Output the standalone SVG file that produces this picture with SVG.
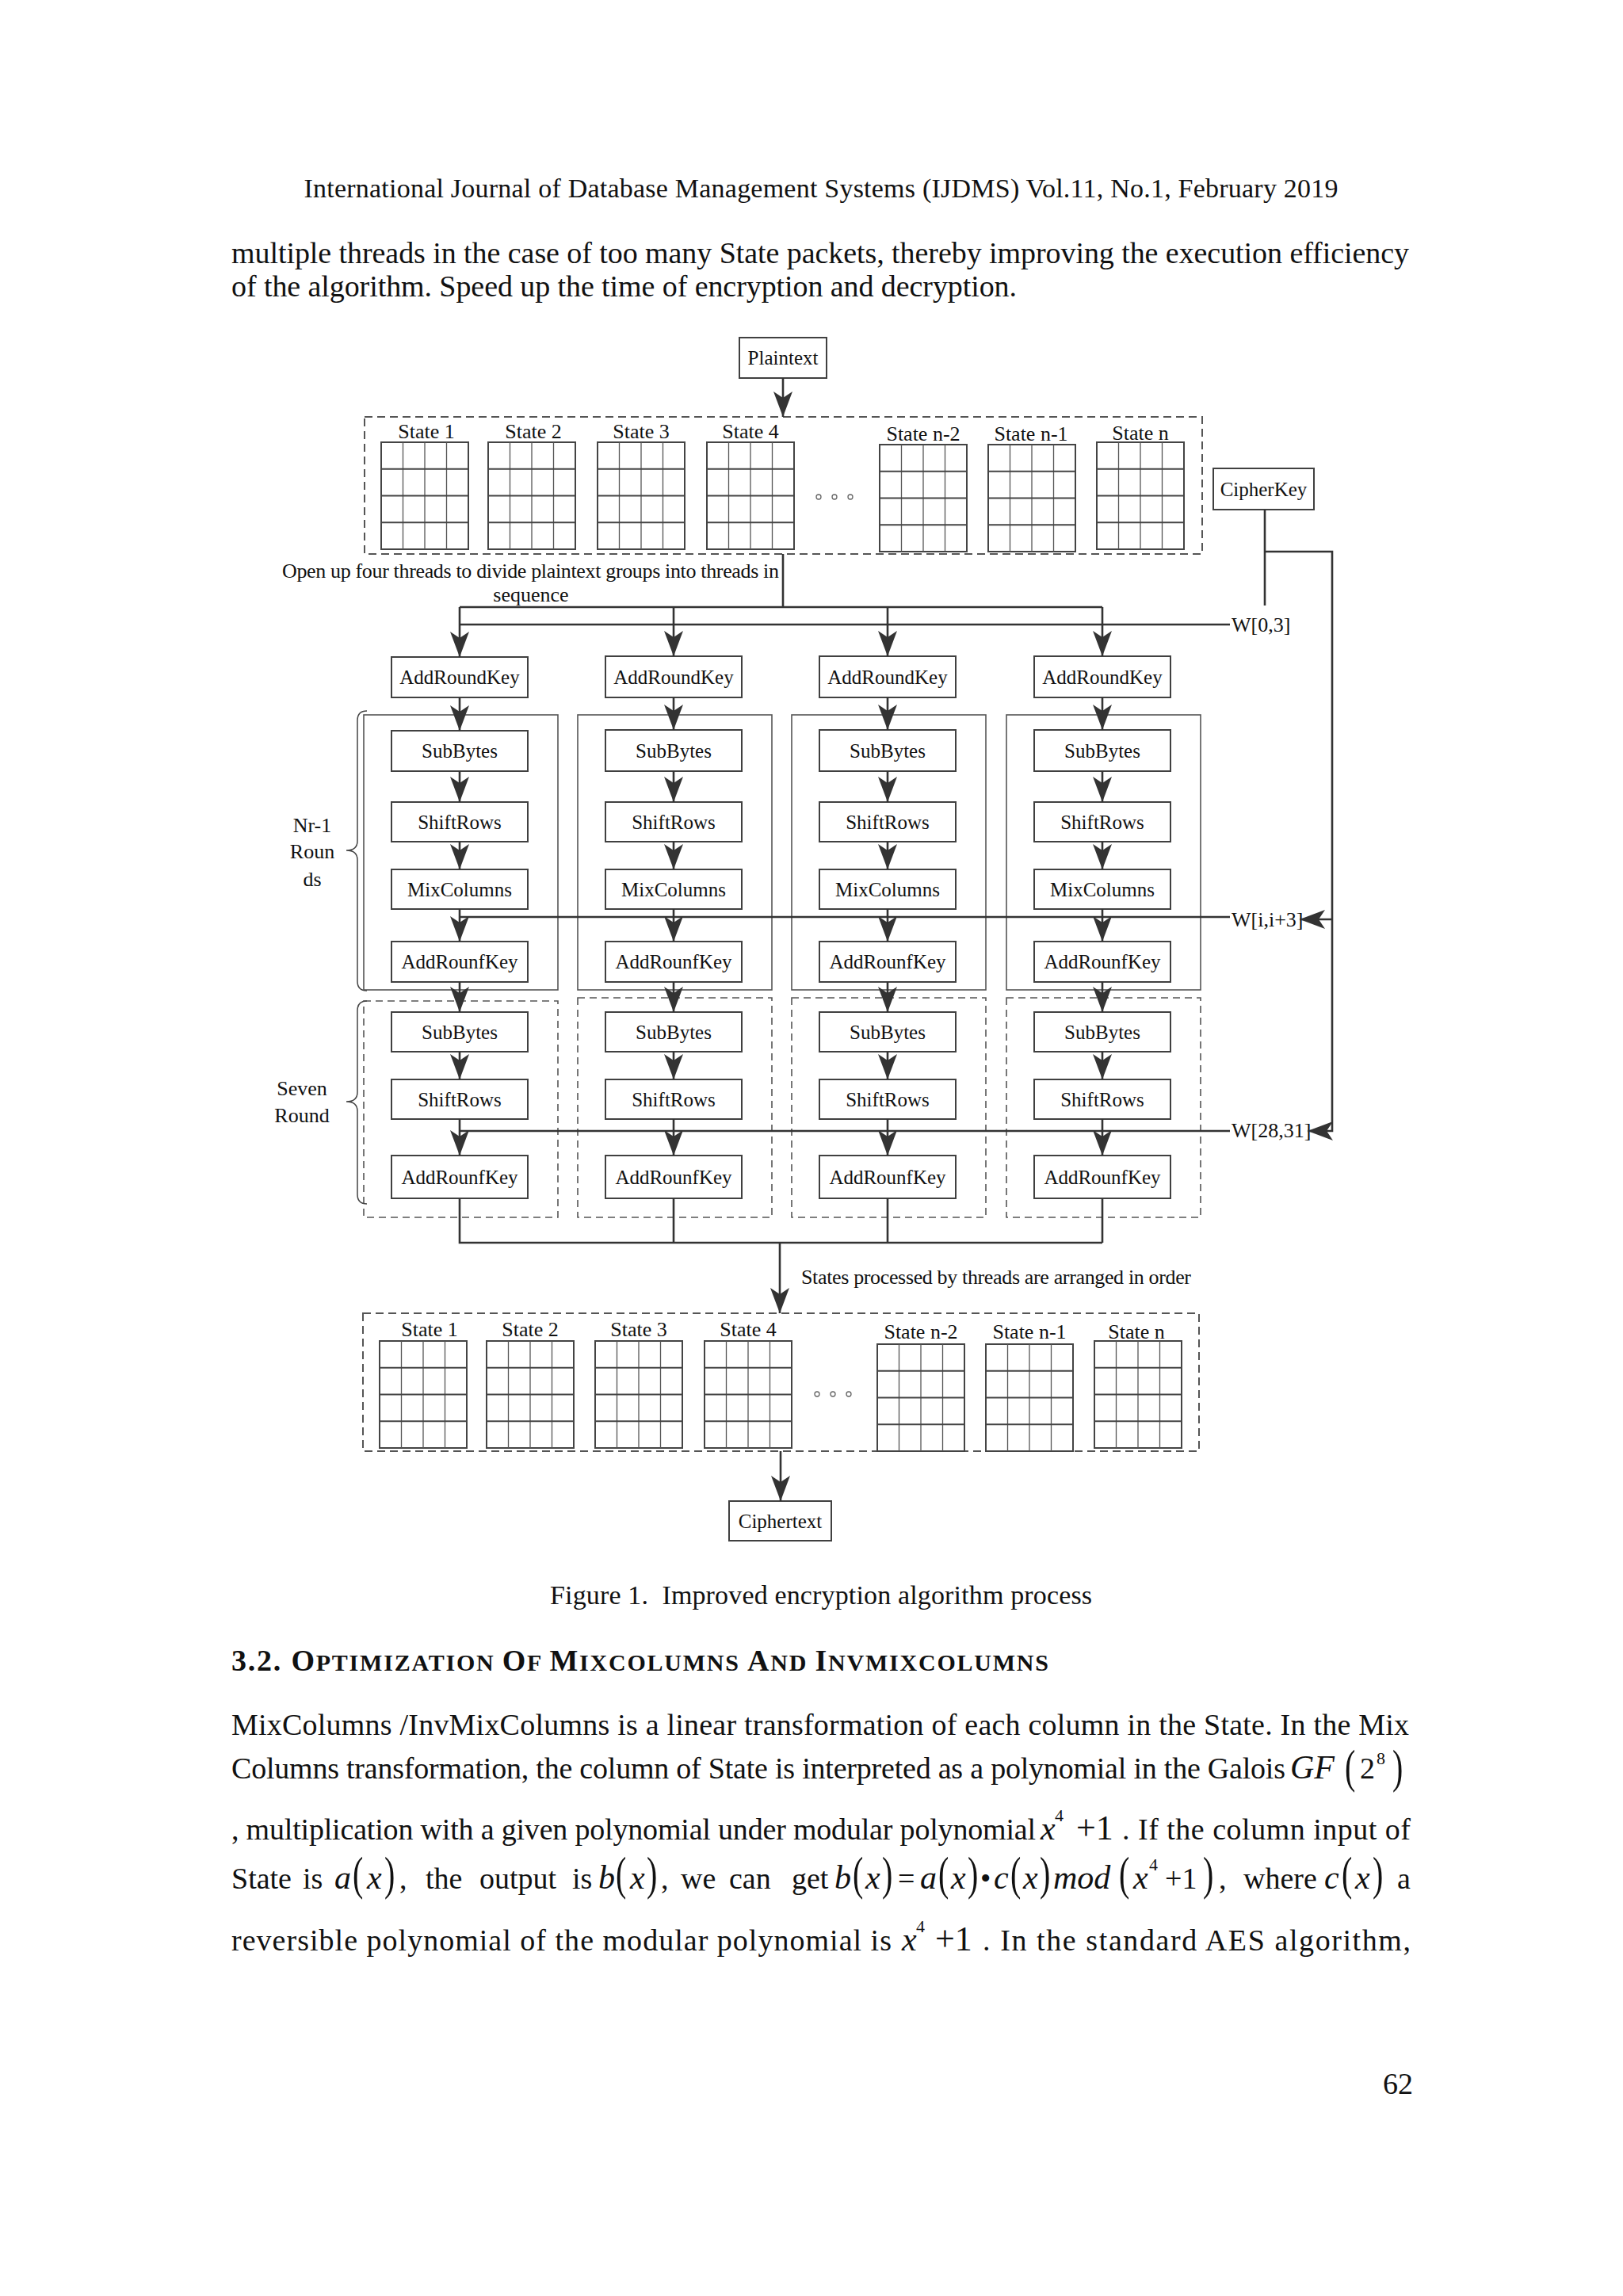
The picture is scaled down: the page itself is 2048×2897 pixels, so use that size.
<svg xmlns="http://www.w3.org/2000/svg" width="2048" height="2897" viewBox="0 0 2048 2897">
<style>
.t{font-family:"Liberation Serif","Times New Roman",serif;fill:#111}
.b{font-size:38px}
.f{font-size:25px;text-anchor:middle}
.w{font-size:26px}
.i{font-style:italic}
.m{font-size:42px;font-style:italic}
.pp{font-size:40px}
.box{fill:#fff;stroke:#404040;stroke-width:2}
.ln{stroke:#333;stroke-width:2.6;fill:none}
.thr{fill:none;stroke:#555;stroke-width:1.6}
.thrd{fill:none;stroke:#555;stroke-width:1.6;stroke-dasharray:9 6}
.dash{fill:none;stroke:#555;stroke-width:2;stroke-dasharray:10 6}
.gr{fill:none;stroke:#444;stroke-width:2}
.gv{stroke:#555;stroke-width:1.3}
.dot{fill:none;stroke:#666;stroke-width:1.3}
.br{fill:none;stroke:#444;stroke-width:1.5}
</style>
<defs>
<marker id="ah" markerUnits="userSpaceOnUse" markerWidth="34" markerHeight="26" refX="32" refY="13" orient="auto" viewBox="0 0 34 26"><path d="M0,1 L32,13 L0,25 L8,13 Z" fill="#333"/></marker>
<g id="grid">
<rect class="gr" x="0" y="0" width="110" height="135"/>
<line class="gv" x1="27.5" y1="0" x2="27.5" y2="135"/>
<line class="gv" x1="55" y1="0" x2="55" y2="135"/>
<line class="gv" x1="82.5" y1="0" x2="82.5" y2="135"/>
<line class="gr" x1="0" y1="33.75" x2="110" y2="33.75"/>
<line class="gr" x1="0" y1="67.5" x2="110" y2="67.5"/>
<line class="gr" x1="0" y1="101.25" x2="110" y2="101.25"/>
</g>
</defs>
<rect width="2048" height="2897" fill="#fff"/>

<!-- page text -->
<g id="page-text" class="t">
<text x="1036" y="249" font-size="34" text-anchor="middle" textLength="1305" lengthAdjust="spacing">International Journal of Database Management Systems (IJDMS) Vol.11, No.1, February 2019</text>
<text class="b" x="292" y="332" textLength="1486" lengthAdjust="spacing">multiple threads in the case of too many State packets, thereby improving the execution efficiency</text>
<text class="b" x="292" y="374" textLength="991" lengthAdjust="spacing">of the algorithm. Speed up the time of encryption and decryption.</text>
<text x="694" y="2024" font-size="34" textLength="684" lengthAdjust="spacing" style="white-space:pre">Figure 1.  Improved encryption algorithm process</text>
<text x="292" y="2108" font-weight="bold" textLength="1031" lengthAdjust="spacing"><tspan font-size="38">3.2. O</tspan><tspan font-size="30">PTIMIZATION </tspan><tspan font-size="38">O</tspan><tspan font-size="30">F </tspan><tspan font-size="38">M</tspan><tspan font-size="30">IXCOLUMNS </tspan><tspan font-size="38">A</tspan><tspan font-size="30">ND </tspan><tspan font-size="38">I</tspan><tspan font-size="30">NVMIXCOLUMNS</tspan></text>
<text class="b" x="292" y="2189" textLength="1486" lengthAdjust="spacing">MixColumns /InvMixColumns is a linear transformation of each column in the State. In the Mix</text>

<!-- line 2 -->
<text class="b" x="292" y="2244" textLength="1330" lengthAdjust="spacing">Columns transformation, the column of State is interpreted as a polynomial in the Galois</text>
<text class="m" x="1628" y="2244">GF</text>
<text class="b" x="1716" y="2244">2</text>
<text x="1737" y="2226" font-size="22">8</text>
<text class="pp" transform="scale(1 1.5)" y="1499.3"><tspan x="1697">(</tspan><tspan x="1757">)</tspan></text>

<!-- line 3 -->
<text class="b" x="292" y="2321" textLength="1015" lengthAdjust="spacing">, multiplication with a given polynomial under modular polynomial</text>
<text class="m" x="1313" y="2321">x</text>
<text x="1331" y="2298" font-size="22">4</text>
<text x="1358" y="2321" font-size="44">+1</text>
<text class="b" x="1416" y="2321" textLength="364" lengthAdjust="spacing">. If the column input of</text>

<!-- line 4 -->
<text class="b" y="2383"><tspan x="292">State</tspan><tspan x="382">is</tspan><tspan x="504">,</tspan><tspan x="537">the</tspan><tspan x="605">output</tspan><tspan x="722">is</tspan><tspan x="834">,</tspan><tspan x="859">we</tspan><tspan x="920">can</tspan><tspan x="999">get</tspan><tspan x="1133">=</tspan><tspan x="1237">•</tspan><tspan x="1470">+1</tspan><tspan x="1538">,</tspan><tspan x="1569">where</tspan><tspan x="1763">a</tspan></text>
<text class="m" y="2383"><tspan x="422">a</tspan><tspan x="463">x</tspan><tspan x="755">b</tspan><tspan x="795">x</tspan><tspan x="1053">b</tspan><tspan x="1092">x</tspan><tspan x="1161">a</tspan><tspan x="1200">x</tspan><tspan x="1254">c</tspan><tspan x="1291">x</tspan><tspan x="1329">mod</tspan><tspan x="1430">x</tspan><tspan x="1671">c</tspan><tspan x="1710">x</tspan></text>
<text x="1450" y="2360" font-size="22">4</text>
<text class="pp" transform="scale(1 1.5)" y="1589.3"><tspan x="445">(</tspan><tspan x="485">)</tspan><tspan x="777">(</tspan><tspan x="816">)</tspan><tspan x="1076">(</tspan><tspan x="1113">)</tspan><tspan x="1184">(</tspan><tspan x="1221">)</tspan><tspan x="1275">(</tspan><tspan x="1312">)</tspan><tspan x="1412">(</tspan><tspan x="1518">)</tspan><tspan x="1693">(</tspan><tspan x="1732">)</tspan></text>

<!-- line 5 -->
<text class="b" x="292" y="2461" textLength="833" lengthAdjust="spacing">reversible polynomial of the modular polynomial is</text>
<text class="m" x="1138" y="2461">x</text>
<text x="1156" y="2438" font-size="22">4</text>
<text x="1180" y="2461" font-size="44">+1</text>
<text class="b" x="1240" y="2461" textLength="540" lengthAdjust="spacing">. In the standard AES algorithm,</text>
<text class="b" x="1745" y="2642">62</text>
</g>

<!-- State blocks (top) -->
<g id="states-top">
<rect class="dash" x="460" y="526" width="1057" height="173"/>
<use href="#grid" x="481" y="558"/>
<use href="#grid" x="616" y="558"/>
<use href="#grid" x="754" y="558"/>
<use href="#grid" x="892" y="558"/>
<use href="#grid" x="1110" y="561"/>
<use href="#grid" x="1247" y="561"/>
<use href="#grid" x="1384" y="558"/>
<g class="t f" style="font-size:26px">
<text x="538" y="553">State 1</text>
<text x="673" y="553">State 2</text>
<text x="809" y="553">State 3</text>
<text x="947" y="553">State 4</text>
<text x="1165" y="556">State n-2</text>
<text x="1301" y="556">State n-1</text>
<text x="1439" y="555">State n</text>
</g>
<circle class="dot" cx="1033" cy="627" r="3"/><circle class="dot" cx="1053" cy="627" r="3"/><circle class="dot" cx="1073" cy="627" r="3"/>
</g>

<g id="states-bottom">
<rect class="dash" x="458" y="1657" width="1055" height="174"/>
<use href="#grid" x="479" y="1692"/>
<use href="#grid" x="614" y="1692"/>
<use href="#grid" x="751" y="1692"/>
<use href="#grid" x="889" y="1692"/>
<use href="#grid" x="1107" y="1696"/>
<use href="#grid" x="1244" y="1696"/>
<use href="#grid" x="1381" y="1692"/>
<g class="t f" style="font-size:26px">
<text x="542" y="1686">State 1</text>
<text x="669" y="1686">State 2</text>
<text x="806" y="1686">State 3</text>
<text x="944" y="1686">State 4</text>
<text x="1162" y="1689">State n-2</text>
<text x="1299" y="1689">State n-1</text>
<text x="1434" y="1689">State n</text>
</g>
<circle class="dot" cx="1031" cy="1759" r="3"/><circle class="dot" cx="1051" cy="1759" r="3"/><circle class="dot" cx="1071" cy="1759" r="3"/>
</g>

<g id="plaintext"><rect class="box" x="933" y="426" width="110" height="51"/><text class="t f" x="988" y="460">Plaintext</text></g>
<g id="ciphertext"><rect class="box" x="920" y="1894" width="129" height="50"/><text class="t f" x="984.5" y="1928">Ciphertext</text></g>
<g id="cipherkey"><rect class="box" x="1531" y="591" width="127" height="52"/><text class="t f" x="1594.5" y="626">CipherKey</text></g>

<!-- thread frames -->
<g id="frames">
<rect class="thr" x="459" y="902" width="245" height="347"/>
<rect class="thr" x="729" y="902" width="245" height="347"/>
<rect class="thr" x="999" y="902" width="245" height="347"/>
<rect class="thr" x="1270" y="902" width="245" height="347"/>
<rect class="thrd" x="459" y="1263" width="245" height="273"/>
<rect class="thrd" x="729" y="1259" width="245" height="277"/>
<rect class="thrd" x="999" y="1259" width="245" height="277"/>
<rect class="thrd" x="1270" y="1259" width="245" height="277"/>
<path class="br" d="M463,897 q-12,0 -12,12 L451,1061 q0,12 -14,12 q14,0 14,12 L451,1238 q0,12 12,12"/>
<path class="br" d="M463,1263 q-12,0 -12,12 L451,1378 q0,12 -14,12 q14,0 14,12 L451,1507 q0,12 12,12"/>
<g class="t f" style="font-size:26px">
<text x="394" y="1050">Nr-1</text>
<text x="394" y="1083">Roun</text>
<text x="394" y="1118">ds</text>
<text x="381" y="1382">Seven</text>
<text x="381" y="1416">Round</text>
</g>
</g>

<!-- thread 1 -->
<g id="thread1">
<rect class="box" x="494" y="829" width="172" height="51"/><text class="t f" x="580" y="863">AddRoundKey</text>
<rect class="box" x="494" y="922" width="172" height="51"/><text class="t f" x="580" y="956">SubBytes</text>
<rect class="box" x="494" y="1012" width="172" height="50"/><text class="t f" x="580" y="1046">ShiftRows</text>
<rect class="box" x="494" y="1097" width="172" height="50"/><text class="t f" x="580" y="1131">MixColumns</text>
<rect class="box" x="494" y="1188" width="172" height="51"/><text class="t f" x="580" y="1222">AddRounfKey</text>
<rect class="box" x="494" y="1277" width="172" height="50"/><text class="t f" x="580" y="1311">SubBytes</text>
<rect class="box" x="494" y="1362" width="172" height="50"/><text class="t f" x="580" y="1396">ShiftRows</text>
<rect class="box" x="494" y="1458" width="172" height="54"/><text class="t f" x="580" y="1494">AddRounfKey</text>
</g>
<g id="thread2">
<rect class="box" x="764" y="828" width="172" height="52"/><text class="t f" x="850" y="863">AddRoundKey</text>
<rect class="box" x="764" y="921" width="172" height="52"/><text class="t f" x="850" y="956">SubBytes</text>
<rect class="box" x="764" y="1012" width="172" height="50"/><text class="t f" x="850" y="1046">ShiftRows</text>
<rect class="box" x="764" y="1097" width="172" height="50"/><text class="t f" x="850" y="1131">MixColumns</text>
<rect class="box" x="764" y="1188" width="172" height="51"/><text class="t f" x="850" y="1222">AddRounfKey</text>
<rect class="box" x="764" y="1277" width="172" height="50"/><text class="t f" x="850" y="1311">SubBytes</text>
<rect class="box" x="764" y="1362" width="172" height="50"/><text class="t f" x="850" y="1396">ShiftRows</text>
<rect class="box" x="764" y="1458" width="172" height="54"/><text class="t f" x="850" y="1494">AddRounfKey</text>
</g>
<g id="thread3">
<rect class="box" x="1034" y="828" width="172" height="52"/><text class="t f" x="1120" y="863">AddRoundKey</text>
<rect class="box" x="1034" y="921" width="172" height="52"/><text class="t f" x="1120" y="956">SubBytes</text>
<rect class="box" x="1034" y="1012" width="172" height="50"/><text class="t f" x="1120" y="1046">ShiftRows</text>
<rect class="box" x="1034" y="1097" width="172" height="50"/><text class="t f" x="1120" y="1131">MixColumns</text>
<rect class="box" x="1034" y="1188" width="172" height="51"/><text class="t f" x="1120" y="1222">AddRounfKey</text>
<rect class="box" x="1034" y="1277" width="172" height="50"/><text class="t f" x="1120" y="1311">SubBytes</text>
<rect class="box" x="1034" y="1362" width="172" height="50"/><text class="t f" x="1120" y="1396">ShiftRows</text>
<rect class="box" x="1034" y="1458" width="172" height="54"/><text class="t f" x="1120" y="1494">AddRounfKey</text>
</g>
<g id="thread4">
<rect class="box" x="1305" y="828" width="172" height="52"/><text class="t f" x="1391" y="863">AddRoundKey</text>
<rect class="box" x="1305" y="921" width="172" height="52"/><text class="t f" x="1391" y="956">SubBytes</text>
<rect class="box" x="1305" y="1012" width="172" height="50"/><text class="t f" x="1391" y="1046">ShiftRows</text>
<rect class="box" x="1305" y="1097" width="172" height="50"/><text class="t f" x="1391" y="1131">MixColumns</text>
<rect class="box" x="1305" y="1188" width="172" height="51"/><text class="t f" x="1391" y="1222">AddRounfKey</text>
<rect class="box" x="1305" y="1277" width="172" height="50"/><text class="t f" x="1391" y="1311">SubBytes</text>
<rect class="box" x="1305" y="1362" width="172" height="50"/><text class="t f" x="1391" y="1396">ShiftRows</text>
<rect class="box" x="1305" y="1458" width="172" height="54"/><text class="t f" x="1391" y="1494">AddRounfKey</text>
</g>

<!-- labels -->
<g id="labels" class="t">
<text x="356" y="729" font-size="26" textLength="627" lengthAdjust="spacing">Open up four threads to divide plaintext groups into threads in</text>
<text x="670" y="759" font-size="26" text-anchor="middle">sequence</text>
<text x="1011" y="1620" font-size="26" textLength="492" lengthAdjust="spacing">States processed by threads are arranged in order</text>
<text class="w" x="1554" y="797">W[0,3]</text>
<text class="w" x="1554" y="1169">W[i,i+3]</text>
<text class="w" x="1554" y="1435">W[28,31]</text>
</g>

<!-- connectors -->
<g id="connectors" class="ln">
<path d="M988,477 V526" marker-end="url(#ah)"/>
<path d="M988,699 V766 M580,766 H1391"/>
<path d="M580,788 H1552"/>
<path d="M580,1157 H1552"/>
<path d="M580,1427 H1552"/>
<path d="M580,766 V829" marker-end="url(#ah)"/>
<path d="M850,766 V828" marker-end="url(#ah)"/>
<path d="M1120,766 V828" marker-end="url(#ah)"/>
<path d="M1391,766 V828" marker-end="url(#ah)"/>
<path d="M580,880 V922" marker-end="url(#ah)"/>
<path d="M850,880 V921" marker-end="url(#ah)"/>
<path d="M1120,880 V921" marker-end="url(#ah)"/>
<path d="M1391,880 V921" marker-end="url(#ah)"/>
<path d="M580,973 V1012" marker-end="url(#ah)"/>
<path d="M850,973 V1012" marker-end="url(#ah)"/>
<path d="M1120,973 V1012" marker-end="url(#ah)"/>
<path d="M1391,973 V1012" marker-end="url(#ah)"/>
<path d="M580,1062 V1097" marker-end="url(#ah)"/>
<path d="M850,1062 V1097" marker-end="url(#ah)"/>
<path d="M1120,1062 V1097" marker-end="url(#ah)"/>
<path d="M1391,1062 V1097" marker-end="url(#ah)"/>
<path d="M580,1147 V1188" marker-end="url(#ah)"/>
<path d="M850,1147 V1188" marker-end="url(#ah)"/>
<path d="M1120,1147 V1188" marker-end="url(#ah)"/>
<path d="M1391,1147 V1188" marker-end="url(#ah)"/>
<path d="M580,1239 V1277" marker-end="url(#ah)"/>
<path d="M850,1239 V1277" marker-end="url(#ah)"/>
<path d="M1120,1239 V1277" marker-end="url(#ah)"/>
<path d="M1391,1239 V1277" marker-end="url(#ah)"/>
<path d="M580,1327 V1362" marker-end="url(#ah)"/>
<path d="M850,1327 V1362" marker-end="url(#ah)"/>
<path d="M1120,1327 V1362" marker-end="url(#ah)"/>
<path d="M1391,1327 V1362" marker-end="url(#ah)"/>
<path d="M580,1412 V1458" marker-end="url(#ah)"/>
<path d="M850,1412 V1458" marker-end="url(#ah)"/>
<path d="M1120,1412 V1458" marker-end="url(#ah)"/>
<path d="M1391,1412 V1458" marker-end="url(#ah)"/>
<path d="M580,1512 V1568 H1391 M850,1512 V1568 M1120,1512 V1568 M1391,1512 V1568"/>
<path d="M984,1568 V1657" marker-end="url(#ah)"/>
<path d="M985,1831 V1894" marker-end="url(#ah)"/>
<path d="M1596,643 V764"/>
<path d="M1596,696 H1681 V1427 H1650" marker-end="url(#ah)"/>
<path d="M1681,1160 H1640" marker-end="url(#ah)"/>
</g>
</svg>
